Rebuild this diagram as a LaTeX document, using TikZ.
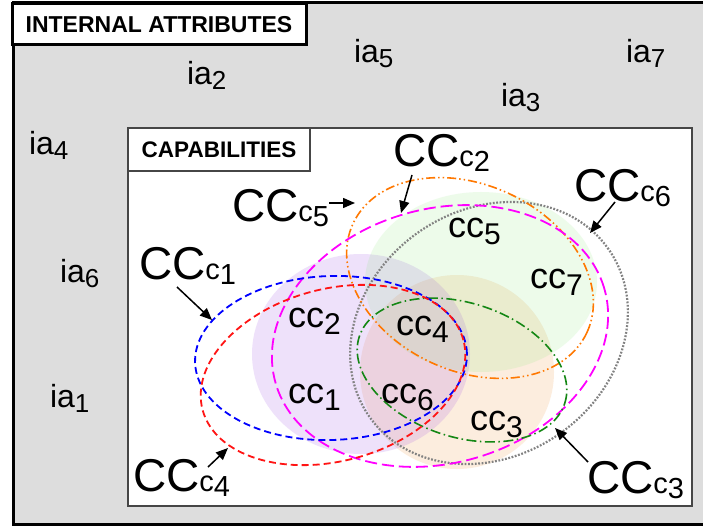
\documentclass[tikz,border=0pt]{standalone}
\usepackage{fontspec}
\setmainfont{Liberation Sans}
\usetikzlibrary{arrows.meta}
\definecolor{bgray}{RGB}{221,221,221}
\definecolor{boxgray}{RGB}{70,70,70}
\definecolor{myorange}{RGB}{255,120,0}
\definecolor{mygreen}{RGB}{20,135,20}
\definecolor{mymag}{RGB}{255,0,255}
\definecolor{myblue}{RGB}{0,0,255}
\definecolor{myred}{RGB}{255,20,20}
\definecolor{mygray}{RGB}{130,130,130}
\definecolor{fpurple}{RGB}{160,80,230}
\definecolor{fgreen}{RGB}{120,230,100}
\definecolor{fpeach}{RGB}{240,150,60}
\newcommand{\ialab}[1]{\fontsize{32}{32}\selectfont ia\raisebox{-5pt}{\fontsize{26}{26}\selectfont #1}}
\newcommand{\cclab}[1]{\fontsize{36}{36}\selectfont cc\raisebox{-7pt}{\fontsize{30}{30}\selectfont #1}}
\newcommand{\CClab}[1]{\fontsize{46}{46}\selectfont CC{\fontsize{29}{29}\selectfont c\raisebox{-5pt}{#1}}}
\begin{document}
\begin{tikzpicture}[x=1pt,y=-1pt,
  lab/.style={anchor=base west, inner sep=0pt, outer sep=0pt},
  titlebox/.style={draw=black, fill=white, inner sep=0pt, font=\bfseries},
  blueline/.style={draw=myblue, line width=1.8pt, dash pattern=on 7pt off 4pt},
  redline/.style={draw=myred, line width=1.8pt, dash pattern=on 7pt off 4pt},
  magline/.style={draw=mymag, line width=1.8pt, dash pattern=on 12pt off 5pt},
  orangeline/.style={draw=myorange, line width=1.6pt, dash pattern=on 9pt off 3pt on 1.5pt off 3pt on 1.5pt off 3pt},
  greenline/.style={draw=mygreen, line width=1.6pt, dash pattern=on 10pt off 3.5pt on 1.5pt off 3.5pt},
  grayline/.style={draw=mygray, line width=2.2pt, dash pattern=on 1.8pt off 1.6pt},
  pointer/.style={draw=black, line width=1.5pt, -{Triangle[length=12pt,width=10pt]}}
]
\useasboundingbox (0,0) rectangle (703,529);
\clip (0,0) rectangle (703,529);
% outer region
\draw[line width=3pt, fill=bgray] (13,2.5) rectangle (720,524.5);
\node[titlebox, line width=3pt, minimum width=294pt, minimum height=41pt, font=\bfseries\fontsize{23}{23}\selectfont] (iabox) at (159,24.5) {INTERNAL ATTRIBUTES};
% capabilities region
\draw[line width=2pt, draw=boxgray, fill=white] (128,128) rectangle (692,506);
\node[titlebox, draw=boxgray, line width=2pt, minimum width=182pt, minimum height=43pt, font=\bfseries\fontsize{22.5}{22.5}\selectfont] (capbox) at (219,149.5) {CAPABILITIES};
% internal attributes
\node[lab] (ia2) at (187,85) {\ialab{2}};
\node[lab] (ia4) at (29,155) {\ialab{4}};
\node[lab] (ia5) at (354,63) {\ialab{5}};
\node[lab] (ia7) at (626,63) {\ialab{7}};
\node[lab] (ia3) at (501,107) {\ialab{3}};
\node[lab] (ia6) at (60,282) {\ialab{6}};
\node[lab] (ia1) at (50,407) {\ialab{1}};
% filled regions
\fill[fpeach, fill opacity=0.17] (457,372) circle [radius=97pt];
\fill[fpurple, fill opacity=0.17] (361,354) ellipse [x radius=109pt, y radius=100pt];
\fill[fgreen, fill opacity=0.13] (481,282) ellipse [x radius=116pt, y radius=90pt];
% capability outlines
\draw[grayline, rotate around={35:(489,333)}] (489,333) ellipse [x radius=146pt, y radius=123pt];
\draw[orangeline, rotate around={-25:(470,278)}] (470,278) ellipse [x radius=129pt, y radius=93pt];
\draw[magline, rotate around={16:(440,336)}] (440,336) ellipse [x radius=171pt, y radius=127pt];
\draw[greenline, rotate around={-18:(462,370)}] (462,370) ellipse [x radius=108pt, y radius=67pt];
\draw[blueline, rotate around={2:(331,358)}] (331,358) ellipse [x radius=136pt, y radius=82pt];
\draw[redline, rotate around={15:(333,375)}] (333,375) ellipse [x radius=135pt, y radius=86pt];
% cc labels
\node[lab] (cc1) at (288,403) {\cclab{1}};
\node[lab] (cc2) at (288,327) {\cclab{2}};
\node[lab] (cc4) at (396,335) {\cclab{4}};
\node[lab] (cc6) at (381,403) {\cclab{6}};
\node[lab] (cc3) at (470,430) {\cclab{3}};
\node[lab] (cc5) at (448,237) {\cclab{5}};
\node[lab] (cc7) at (530,288) {\cclab{7}};
% CC labels
\node[lab] (CC5) at (232,222) {\CClab{5}};
\node[lab] (CC2) at (393,167) {\CClab{2}};
\node[lab] (CC6) at (574,202) {\CClab{6}};
\node[lab] (CC1) at (139,279) {\CClab{1}};
\node[lab] (CC4) at (133,491) {\CClab{4}};
\node[lab] (CC3) at (587,493) {\CClab{3}};
% arrow ends
\coordinate (s5) at (329,203); \coordinate (t5) at (355,203);
\coordinate (s2) at (412,175); \coordinate (t2) at (401,213);
\coordinate (s6) at (615,202); \coordinate (t6) at (590,233);
\coordinate (s1) at (177,287); \coordinate (t1) at (212,320);
\coordinate (s4) at (208,467); \coordinate (t4) at (228,448);
\coordinate (s3) at (588,462); \coordinate (t3) at (555,428);
\draw[pointer] (s5) -- (t5);
\draw[pointer] (s2) -- (t2);
\draw[pointer] (s6) -- (t6);
\draw[pointer] (s1) -- (t1);
\draw[pointer] (s4) -- (t4);
\draw[pointer] (s3) -- (t3);
\end{tikzpicture}
\end{document}
